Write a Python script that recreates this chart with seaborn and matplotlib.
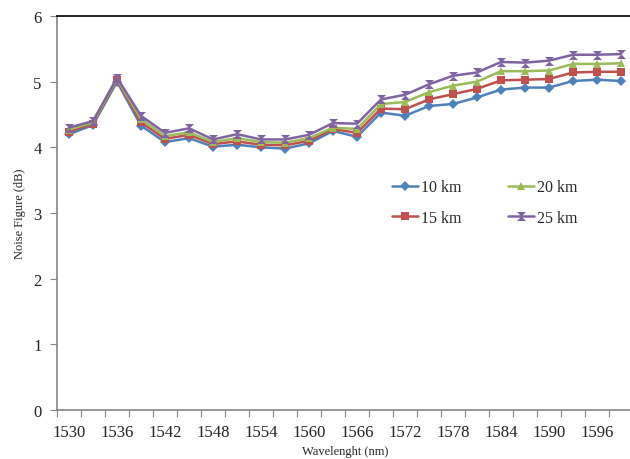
import matplotlib
matplotlib.use("Agg")
import matplotlib.pyplot as plt
import seaborn as sns
import pandas as pd
from matplotlib.ticker import FixedLocator

# data
wavelengths = [1530, 1533, 1536, 1539, 1542, 1545, 1548, 1551, 1554, 1557, 1560, 1563,
               1566, 1569, 1572, 1575, 1578, 1581, 1584, 1587, 1590, 1593, 1596, 1599]
nf_10km = [4.20, 4.34, 5.00, 4.33, 4.08, 4.14, 4.01, 4.04, 4.00, 3.98, 4.06, 4.25,
           4.16, 4.53, 4.48, 4.63, 4.66, 4.76, 4.88, 4.91, 4.91, 5.01, 5.03, 5.01]
nf_15km = [4.24, 4.36, 5.02, 4.38, 4.13, 4.19, 4.05, 4.09, 4.04, 4.03, 4.10, 4.28,
           4.22, 4.59, 4.58, 4.73, 4.81, 4.89, 5.02, 5.03, 5.04, 5.14, 5.15, 5.15]
nf_20km = [4.27, 4.38, 5.04, 4.43, 4.17, 4.23, 4.08, 4.14, 4.08, 4.07, 4.14, 4.30,
           4.28, 4.66, 4.69, 4.84, 4.94, 5.00, 5.16, 5.16, 5.17, 5.27, 5.27, 5.28]
nf_25km = [4.30, 4.40, 5.06, 4.48, 4.22, 4.29, 4.12, 4.20, 4.12, 4.12, 4.19, 4.37,
           4.36, 4.73, 4.80, 4.96, 5.09, 5.14, 5.30, 5.29, 5.32, 5.41, 5.41, 5.42]
series_names = ["10 km", "15 km", "20 km", "25 km"]

sns.set_theme(style="white")
plt.rcParams["font.family"] = ["Liberation Serif", "DejaVu Serif"]

rows = []
for name, vals in zip(series_names, [nf_10km, nf_15km, nf_20km, nf_25km]):
    for i, v in enumerate(vals):
        rows.append({"pos": i, "nf": v, "series": name})
df = pd.DataFrame(rows)

colors = {"10 km": "#4F81BD", "15 km": "#C0504D", "20 km": "#9BBB59", "25 km": "#8064A2"}
hourglass = [(-1, 1), (1, 1), (-1, -1), (1, -1), (-1, 1)]
markers = {"10 km": "D", "15 km": "s", "20 km": "^", "25 km": hourglass}
msizes = {"10 km": 5, "15 km": 5.5, "20 km": 6, "25 km": 6.5}

fig = plt.figure(figsize=(6.3, 4.6), dpi=100)
ax = fig.add_axes([57 / 630, 1 - 411 / 460, (633 - 57) / 630, (411 - 17) / 460])

for name in series_names:
    sub = df[df["series"] == name]
    sns.lineplot(data=sub, x="pos", y="nf", ax=ax, color=colors[name], linewidth=1.8,
                 marker=markers[name], markersize=msizes[name], markeredgewidth=0,
                 label=name)

ax.set_xlim(-0.5, len(wavelengths) - 0.5)
ax.set_ylim(0, 6)
ax.set_yticks(range(0, 7))

# category axis: labels every 2nd category, tick marks between categories
ax.xaxis.set_major_locator(FixedLocator(range(0, len(wavelengths), 2)))
ax.set_xticklabels([str(w) for w in wavelengths[::2]])
ax.xaxis.set_minor_locator(FixedLocator([i - 0.5 for i in range(len(wavelengths) + 1)]))
ax.tick_params(axis="x", which="major", length=0, pad=10, labelsize=12, colors="#222222")
ax.tick_params(axis="x", which="minor", bottom=True, length=5, width=0.8, color="#868686", direction="out")
ax.tick_params(axis="y", left=True, length=5, width=0.8, color="#868686", direction="out",
               labelsize=12, labelcolor="#222222", pad=6)

for side in ["left", "bottom"]:
    ax.spines[side].set_color("#868686")
    ax.spines[side].set_linewidth(1.2)
ax.spines["top"].set_color("black")
ax.spines["top"].set_linewidth(1.2)
ax.spines["right"].set_visible(False)

ax.set_xlabel("Wavelenght (nm)", fontsize=9, labelpad=4)
ax.set_ylabel("Noise Figure (dB)", fontsize=9, labelpad=5)

handles, labels = ax.get_legend_handles_labels()
ax.legend(handles, labels, ncol=2, frameon=False, fontsize=11.5,
          loc="upper left", bbox_to_anchor=(378 / 630, 1 - 166 / 460),
          bbox_transform=fig.transFigure, handlelength=1.6, handletextpad=0.2,
          columnspacing=2.9, labelspacing=0.9)

fig.savefig("out.png", dpi=100)
